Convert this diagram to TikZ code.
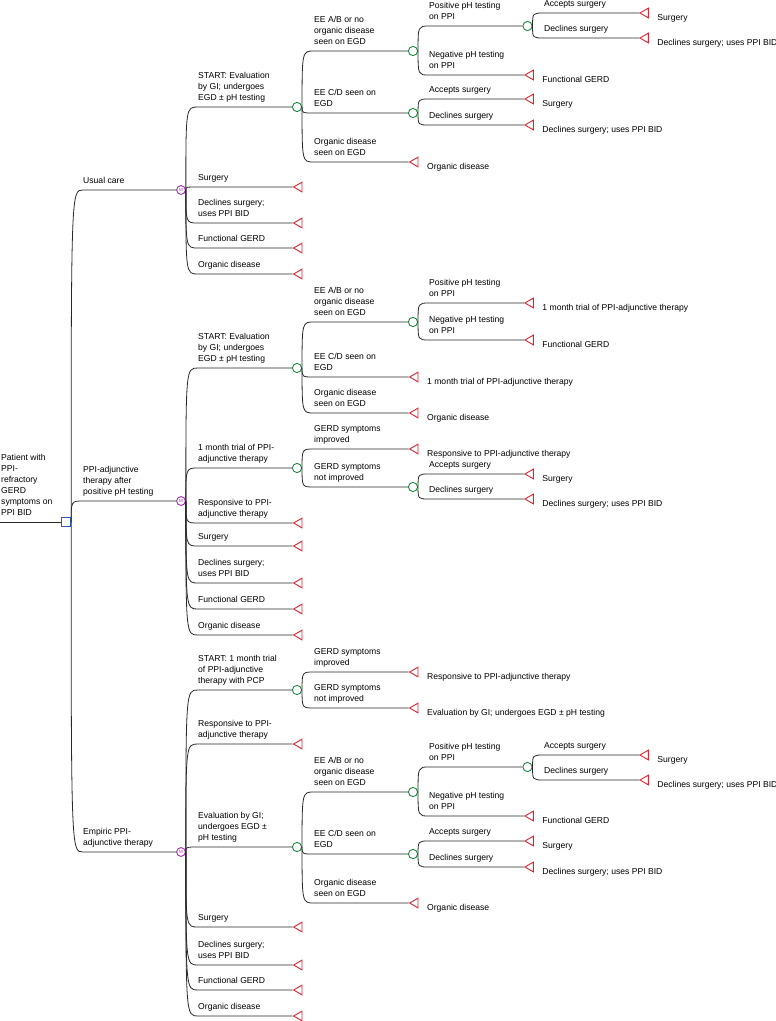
\documentclass[tikz,border=0pt]{standalone}
\usepackage{fontspec}
\setmainfont{Liberation Sans}
\usetikzlibrary{shapes.geometric}
\definecolor{lnc}{RGB}{40,40,40}
\definecolor{grn}{RGB}{30,135,65}
\definecolor{redt}{RGB}{222,35,50}
\definecolor{pur}{RGB}{160,45,175}
\definecolor{blu}{RGB}{45,90,180}
\newcommand\lf{\fontsize{8.6}{11}\selectfont}
\newcommand\ml[1]{\begin{tabular}[b]{@{}l@{}}#1\end{tabular}}
\newcommand\cn[3]{\draw[br] (#1.east) .. controls (#1.east |- #2.west) .. (#3 |- #2.west) -- (#2.west);}
\newcommand\bl[3]{\path (#2 |- #1.west) ++(0,-6.5) node[blab] (#1-l) {\ml{#3}};}
\newcommand\tl[2]{\path (#1.east) ++(8.5,7.5) node[blab] (#1-t) {#2};}
\tikzset{
 br/.style={draw=lnc, line width=0.8pt},
 chance/.style={circle, draw=grn, fill=white, line width=0.9pt, minimum size=9.2pt, inner sep=0pt},
 markov/.style={circle, draw=pur, fill=white, line width=0.9pt, minimum size=8.8pt, inner sep=0pt, text=pur, font=\fontsize{4.5}{4.5}\selectfont},
 term/.style={regular polygon, regular polygon sides=3, shape border rotate=90, draw=redt, fill=white, line width=0.9pt, minimum size=11.2pt, inner sep=0pt, anchor=west},
 dec/.style={rectangle, draw=blu, fill=white, line width=0.9pt, minimum size=9pt, inner sep=0pt},
 blab/.style={anchor=base west, inner sep=0pt, font=\lf},
}
\begin{document}
\begin{tikzpicture}[x=1pt,y=-1pt]
\useasboundingbox (0,0) rectangle (776,1021);
\coordinate (X0) at (83,0);
\coordinate (X1) at (198,0);
\coordinate (X2) at (314,0);
\coordinate (X3) at (429,0);
\coordinate (X4) at (544,0);
% root
\coordinate (rin) at (0,522);
\node[dec] (sq) at (66.2,522) {};
\draw[br] (rin) -- (sq.west);
\node[blab] (rootl) at (1,515.5) {\ml{Patient with\\PPI-\\refractory\\GERD\\symptoms on\\PPI BID}};
% markov nodes
\node[markov] (m1) at (181,190) {M};
\node[markov] (m2) at (181,501) {M};
\node[markov] (m3) at (181,852) {M};
% ---------- top section
\node[chance] (c1) at (297,107) {};
\node[term] (t1a) at (292.7,187) {};
\node[term] (t1b) at (292.7,223) {};
\node[term] (t1c) at (292.7,248) {};
\node[term] (t1d) at (292.7,274) {};
\node[chance] (c2) at (413,51) {};
\node[chance] (c3) at (413,113) {};
\node[term] (t2a) at (408.7,162) {};
\node[chance] (c4) at (527.5,26) {};
\node[term] (t3a) at (524,75) {};
\node[term] (t4a) at (639,13) {};
\node[term] (t4b) at (639,38) {};
\node[term] (t3b) at (524,99) {};
\node[term] (t3c) at (524,125) {};
\cn{sq}{m1}{X0} \bl{m1}{X0}{Usual care}
\cn{m1}{c1}{X1} \bl{c1}{X1}{START: Evaluation\\by GI; undergoes\\EGD ± pH testing}
\cn{m1}{t1a}{X1} \bl{t1a}{X1}{Surgery}
\cn{m1}{t1b}{X1} \bl{t1b}{X1}{Declines surgery;\\uses PPI BID}
\cn{m1}{t1c}{X1} \bl{t1c}{X1}{Functional GERD}
\cn{m1}{t1d}{X1} \bl{t1d}{X1}{Organic disease}
\cn{c1}{c2}{X2} \bl{c2}{X2}{EE A/B or no\\organic disease\\seen on EGD}
\cn{c1}{c3}{X2} \bl{c3}{X2}{EE C/D seen on\\EGD}
\cn{c1}{t2a}{X2} \bl{t2a}{X2}{Organic disease\\seen on EGD} \tl{t2a}{Organic disease}
\cn{c2}{c4}{X3} \bl{c4}{X3}{Positive pH testing\\on PPI}
\cn{c2}{t3a}{X3} \bl{t3a}{X3}{Negative pH testing\\on PPI} \tl{t3a}{Functional GERD}
\cn{c4}{t4a}{X4} \bl{t4a}{X4}{Accepts surgery} \tl{t4a}{Surgery}
\cn{c4}{t4b}{X4} \bl{t4b}{X4}{Declines surgery} \tl{t4b}{Declines surgery; uses PPI BID}
\cn{c3}{t3b}{X3} \bl{t3b}{X3}{Accepts surgery} \tl{t3b}{Surgery}
\cn{c3}{t3c}{X3} \bl{t3c}{X3}{Declines surgery} \tl{t3c}{Declines surgery; uses PPI BID}
% ---------- middle section
\node[chance] (c5) at (297,368) {};
\node[chance] (c7) at (297,468) {};
\node[term] (u1) at (292.7,523) {};
\node[term] (u2) at (292.7,546) {};
\node[term] (u3) at (292.7,583) {};
\node[term] (u4) at (292.7,609) {};
\node[term] (u5) at (292.7,635) {};
\node[chance] (c6) at (413,322) {};
\node[term] (u6) at (408.7,377) {};
\node[term] (u7) at (408.7,413) {};
\node[term] (u8) at (524,303) {};
\node[term] (u9) at (524,340) {};
\node[term] (u10) at (408.7,449) {};
\node[chance] (c8) at (413,487) {};
\node[term] (u11) at (524,474) {};
\node[term] (u12) at (524,499) {};
\cn{sq}{m2}{X0} \bl{m2}{X0}{PPI-adjunctive\\therapy after\\positive pH testing}
\cn{m2}{c5}{X1} \bl{c5}{X1}{START: Evaluation\\by GI; undergoes\\EGD ± pH testing}
\cn{m2}{c7}{X1} \bl{c7}{X1}{1 month trial of PPI-\\adjunctive therapy}
\cn{m2}{u1}{X1} \bl{u1}{X1}{Responsive to PPI-\\adjunctive therapy}
\cn{m2}{u2}{X1} \bl{u2}{X1}{Surgery}
\cn{m2}{u3}{X1} \bl{u3}{X1}{Declines surgery;\\uses PPI BID}
\cn{m2}{u4}{X1} \bl{u4}{X1}{Functional GERD}
\cn{m2}{u5}{X1} \bl{u5}{X1}{Organic disease}
\cn{c5}{c6}{X2} \bl{c6}{X2}{EE A/B or no\\organic disease\\seen on EGD}
\cn{c5}{u6}{X2} \bl{u6}{X2}{EE C/D seen on\\EGD} \tl{u6}{1 month trial of PPI-adjunctive therapy}
\cn{c5}{u7}{X2} \bl{u7}{X2}{Organic disease\\seen on EGD} \tl{u7}{Organic disease}
\cn{c6}{u8}{X3} \bl{u8}{X3}{Positive pH testing\\on PPI} \tl{u8}{1 month trial of PPI-adjunctive therapy}
\cn{c6}{u9}{X3} \bl{u9}{X3}{Negative pH testing\\on PPI} \tl{u9}{Functional GERD}
\cn{c7}{u10}{X2} \bl{u10}{X2}{GERD symptoms\\improved} \tl{u10}{Responsive to PPI-adjunctive therapy}
\cn{c7}{c8}{X2} \bl{c8}{X2}{GERD symptoms\\not improved}
\cn{c8}{u11}{X3} \bl{u11}{X3}{Accepts surgery} \tl{u11}{Surgery}
\cn{c8}{u12}{X3} \bl{u12}{X3}{Declines surgery} \tl{u12}{Declines surgery; uses PPI BID}
% ---------- bottom section
\node[chance] (c9) at (297,690) {};
\node[term] (v1) at (292.7,744) {};
\node[chance] (c10) at (297,847) {};
\node[term] (v2) at (292.7,927) {};
\node[term] (v3) at (292.7,965) {};
\node[term] (v4) at (292.7,990) {};
\node[term] (v5) at (292.7,1016) {};
\node[term] (v6) at (408.7,672) {};
\node[term] (v7) at (408.7,708) {};
\node[chance] (c11) at (413,792) {};
\node[chance] (c12) at (413,854) {};
\node[term] (v8) at (408.7,903) {};
\node[chance] (c13) at (527.5,767) {};
\node[term] (v9) at (524,816) {};
\node[term] (v10) at (639,755) {};
\node[term] (v11) at (639,780) {};
\node[term] (v12) at (524,841) {};
\node[term] (v13) at (524,867) {};
\cn{sq}{m3}{X0} \bl{m3}{X0}{Empiric PPI-\\adjunctive therapy}
\cn{m3}{c9}{X1} \bl{c9}{X1}{START: 1 month trial\\of PPI-adjunctive\\therapy with PCP}
\cn{m3}{v1}{X1} \bl{v1}{X1}{Responsive to PPI-\\adjunctive therapy}
\cn{m3}{c10}{X1} \bl{c10}{X1}{Evaluation by GI;\\undergoes EGD ±\\pH testing}
\cn{m3}{v2}{X1} \bl{v2}{X1}{Surgery}
\cn{m3}{v3}{X1} \bl{v3}{X1}{Declines surgery;\\uses PPI BID}
\cn{m3}{v4}{X1} \bl{v4}{X1}{Functional GERD}
\cn{m3}{v5}{X1} \bl{v5}{X1}{Organic disease}
\cn{c9}{v6}{X2} \bl{v6}{X2}{GERD symptoms\\improved} \tl{v6}{Responsive to PPI-adjunctive therapy}
\cn{c9}{v7}{X2} \bl{v7}{X2}{GERD symptoms\\not improved} \tl{v7}{Evaluation by GI; undergoes EGD ± pH testing}
\cn{c10}{c11}{X2} \bl{c11}{X2}{EE A/B or no\\organic disease\\seen on EGD}
\cn{c10}{c12}{X2} \bl{c12}{X2}{EE C/D seen on\\EGD}
\cn{c10}{v8}{X2} \bl{v8}{X2}{Organic disease\\seen on EGD} \tl{v8}{Organic disease}
\cn{c11}{c13}{X3} \bl{c13}{X3}{Positive pH testing\\on PPI}
\cn{c11}{v9}{X3} \bl{v9}{X3}{Negative pH testing\\on PPI} \tl{v9}{Functional GERD}
\cn{c13}{v10}{X4} \bl{v10}{X4}{Accepts surgery} \tl{v10}{Surgery}
\cn{c13}{v11}{X4} \bl{v11}{X4}{Declines surgery} \tl{v11}{Declines surgery; uses PPI BID}
\cn{c12}{v12}{X3} \bl{v12}{X3}{Accepts surgery} \tl{v12}{Surgery}
\cn{c12}{v13}{X3} \bl{v13}{X3}{Declines surgery} \tl{v13}{Declines surgery; uses PPI BID}
\end{tikzpicture}
\end{document}
